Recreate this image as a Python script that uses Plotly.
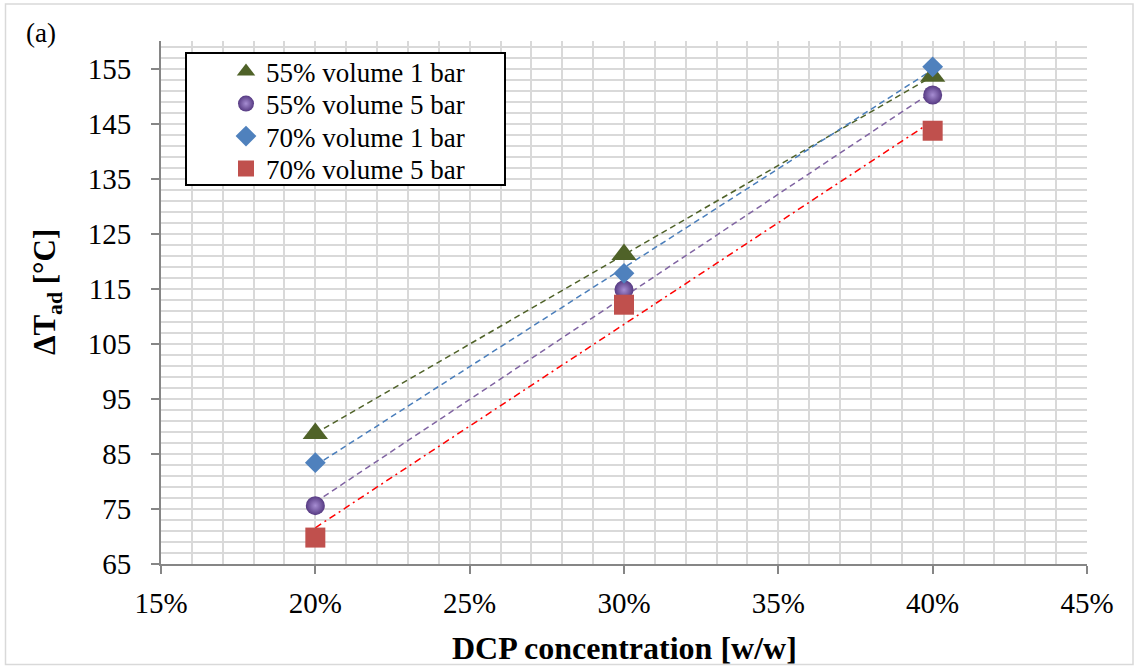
import numpy as np
import plotly.graph_objects as go

# DCP concentration (w/w) and adiabatic temperature rise for each test series
dcp = [0.20, 0.30, 0.40]
tad_55_1bar = [88.7, 121.2, 153.6]
tad_55_5bar = [75.6, 114.8, 150.2]
tad_70_1bar = [83.4, 117.8, 155.3]
tad_70_5bar = [69.8, 112.1, 143.7]

x_ticks = [0.15, 0.20, 0.25, 0.30, 0.35, 0.40, 0.45]
x_tick_text = ["15%", "20%", "25%", "30%", "35%", "40%", "45%"]
y_ticks = [65, 75, 85, 95, 105, 115, 125, 135, 145, 155]

W, H = 1134, 666
ML, MR, MT, MB = 161, 47, 41, 102
PW, PH = W - ML - MR, H - MT - MB


def px_x(p):
    return (p - ML) / PW


def px_y(p):
    return 1 - (p - MT) / PH


SERIF = "Liberation Serif"

series = [
    dict(name="55% volume 1 bar", y=tad_55_1bar, row=72,
         marker=dict(symbol="triangle-up", size=22, color="#4F6228"),
         line=dict(color="#4F6228", width=1.5, dash="6px,4px")),
    dict(name="55% volume 5 bar", y=tad_55_5bar, row=104,
         marker=dict(symbol="circle", size=19, color="#563A82",
                     gradient=dict(type="radial", color="#A68DD2")),
         line=dict(color="#8064A2", width=1.5, dash="6px,4px")),
    dict(name="70% volume 1 bar", y=tad_70_1bar, row=136.5,
         marker=dict(symbol="diamond", size=16, color="#4F81BD"),
         line=dict(color="#4A7EBB", width=1.5, dash="6px,4px")),
    dict(name="70% volume 5 bar", y=tad_70_5bar, row=169,
         marker=dict(symbol="square", size=20, color="#C0504D"),
         line=dict(color="#FF0000", width=1.5, dash="7px,4px,2px,4px")),
]

fig = go.Figure()

# linear trendlines (least-squares fit over the measured range)
for s in series:
    k, b = np.polyfit(dcp, s["y"], 1)
    xs = np.array([min(dcp), max(dcp)])
    fig.add_trace(go.Scatter(x=xs, y=k * xs + b, mode="lines",
                             line=s["line"], showlegend=False,
                             hoverinfo="skip"))

# measured points, each with its own legend row
legend_layouts = {}
for i, s in enumerate(series):
    key = "legend" if i == 0 else f"legend{i + 1}"
    fig.add_trace(go.Scatter(x=dcp, y=s["y"], mode="markers", name=s["name"],
                             legend=key,
                             marker=dict(line=dict(width=0), **s["marker"])))
    legend_layouts[key] = dict(
        x=px_x(226), y=px_y(s["row"]), xanchor="left", yanchor="middle",
        bgcolor="rgba(0,0,0,0)", borderwidth=0,
        font=dict(family=SERIF, size=27, color="black"),
        itemsizing="trace")

grid = "#D9D9D9"
axis_col = "#868686"

fig.update_xaxes(
    range=[0.15, 0.45], tickvals=x_ticks, ticktext=x_tick_text,
    showline=True, linecolor=axis_col, linewidth=2,
    ticks="outside", ticklen=8, tickwidth=2, tickcolor=axis_col,
    showgrid=True, gridcolor=grid, gridwidth=2,
    minor=dict(dtick=0.01, tick0=0.15, showgrid=True, gridcolor=grid,
               gridwidth=2, ticks=""),
    zeroline=False,
    tickfont=dict(family=SERIF, size=29, color="black"),
    ticklabelstandoff=4,
)
fig.update_yaxes(
    range=[65, 160], tickvals=y_ticks,
    showline=True, linecolor=axis_col, linewidth=2,
    ticks="outside", ticklen=8, tickwidth=2, tickcolor=axis_col,
    showgrid=True, gridcolor=grid, gridwidth=2,
    minor=dict(dtick=2, tick0=65, showgrid=True, gridcolor=grid,
               gridwidth=2, ticks=""),
    zeroline=False,
    tickfont=dict(family=SERIF, size=29, color="black"),
    ticklabelstandoff=14,
)

shapes = [
    # legend frame
    dict(type="rect", xref="paper", yref="paper", layer="above",
         x0=px_x(186), x1=px_x(505), y0=px_y(185), y1=px_y(53),
         line=dict(color="black", width=2), fillcolor="white"),
    # outer chart frame
    dict(type="rect", xref="paper", yref="paper", layer="below",
         x0=px_x(5.5), x1=px_x(1133), y0=px_y(664.5), y1=px_y(4),
         line=dict(color="#D9D9D9", width=1.5), fillcolor="rgba(0,0,0,0)"),
]

annotations = [
    dict(text="(a)", xref="paper", yref="paper",
         x=px_x(24), y=px_y(33), xanchor="left", yanchor="middle",
         showarrow=False, font=dict(family=SERIF, size=27, color="black")),
    dict(text="<b>DCP concentration [w/w]</b>", xref="paper", yref="paper",
         x=0.5, y=px_y(648), xanchor="center", yanchor="middle",
         showarrow=False, font=dict(family=SERIF, size=32, color="black")),
    dict(text="<b>ΔT<sub>ad</sub> [°C]</b>", xref="paper", yref="paper",
         x=px_x(47), y=px_y(292), xanchor="center", yanchor="middle",
         textangle=-90, showarrow=False,
         font=dict(family=SERIF, size=31, color="black")),
]

fig.update_layout(
    width=W, height=H,
    margin=dict(l=ML, r=MR, t=MT, b=MB),
    paper_bgcolor="white", plot_bgcolor="white",
    shapes=shapes, annotations=annotations,
    showlegend=True,
    **legend_layouts,
)

fig.write_html("out.html")
